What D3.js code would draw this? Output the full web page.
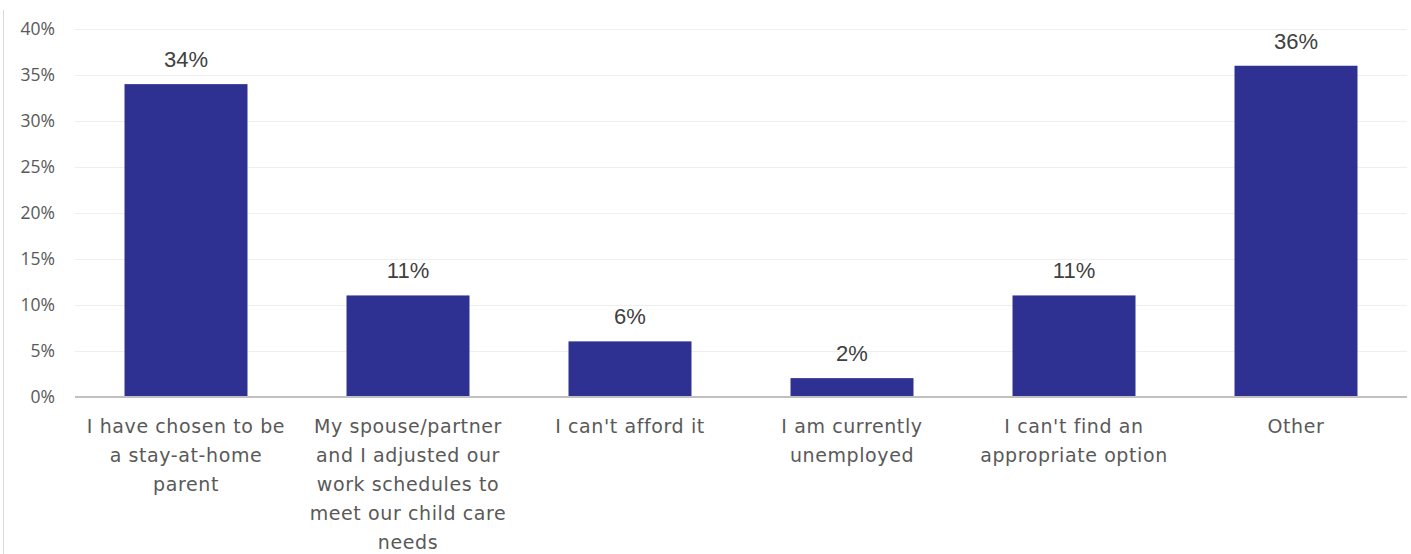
<!DOCTYPE html>
<html><head><meta charset="utf-8">
<script src="https://cdn.jsdelivr.net/npm/d3@7"></script>
<style>html,body{margin:0;padding:0;background:#fff;}</style>
</head><body>
<svg id="chart" width="1411" height="554"></svg>
<script>
const categories = [
  ["I have chosen to be", "a stay-at-home", "parent"],
  ["My spouse/partner", "and I adjusted our", "work schedules to", "meet our child care", "needs"],
  ["I can't afford it"],
  ["I am currently", "unemployed"],
  ["I can't find an", "appropriate option"],
  ["Other"]
];
const values = [34, 11, 6, 2, 11, 36];
const tickValues = [0, 5, 10, 15, 20, 25, 30, 35, 40];

(function () {
const svg = d3.select("#chart");
const W = 1411, H = 554;
const pLeft = 75, pRight = 1407, pTop = 29, pBottom = 396.5;

const x = d3.scaleBand().domain(d3.range(values.length)).range([pLeft, pRight]).paddingInner(0.446).paddingOuter(0.223);
const y = d3.scaleLinear().domain([0, 40]).range([pBottom, pTop]);

// left border
svg.append("line").attr("x1", 3.5).attr("x2", 3.5).attr("y1", 10).attr("y2", H)
  .attr("stroke", "#d9d9d9").attr("stroke-width", 1);

// gridlines
svg.append("g").selectAll("line").data(tickValues.filter(d => d > 0)).join("line")
  .attr("x1", pLeft).attr("x2", pRight)
  .attr("y1", d => Math.round(y(d)) + 0.5).attr("y2", d => Math.round(y(d)) + 0.5)
  .attr("stroke", "#efefef").attr("stroke-width", 1);

// y axis
const yAxis = d3.axisLeft(y).tickValues(tickValues).tickFormat(d => d + "%").tickSize(0).tickPadding(0);
const gy = svg.append("g").attr("transform", "translate(55,0)").call(yAxis);
gy.select(".domain").remove();
gy.selectAll("text").attr("fill", "#595959").style("font-family", "'Open Sans', sans-serif").style("font-size", "17.5px");

// bars
svg.append("g").selectAll("rect").data(values).join("rect")
  .attr("x", (d, i) => x(i)).attr("width", x.bandwidth())
  .attr("y", d => y(d)).attr("height", d => y(0) - y(d))
  .attr("fill", "#2e3192");

// baseline axis
svg.append("line").attr("x1", pLeft).attr("x2", pRight).attr("y1", pBottom + 0.5).attr("y2", pBottom + 0.5)
  .attr("stroke", "#c0c0c0").attr("stroke-width", 2);

// value labels
svg.append("g").selectAll("text").data(values).join("text")
  .attr("x", (d, i) => x(i) + x.bandwidth() / 2).attr("y", d => y(d) - 17)
  .attr("text-anchor", "middle").attr("fill", "#404040")
  .style("font-family", "'Liberation Sans', Arial, sans-serif").style("font-size", "22px")
  .text(d => d + "%");

// category labels
const gx = svg.append("g");
categories.forEach((lines, i) => {
  const t = gx.append("text").attr("text-anchor", "middle").attr("fill", "#595959")
    .style("font-family", "'DejaVu Sans', sans-serif").style("font-size", "19px")
    .style("letter-spacing", "0.6px");
  lines.forEach((ln, j) => {
    t.append("tspan").attr("x", x(i) + x.bandwidth() / 2).attr("y", 433 + j * 29).text(ln);
  });
});
})();
</script>
</body></html>
